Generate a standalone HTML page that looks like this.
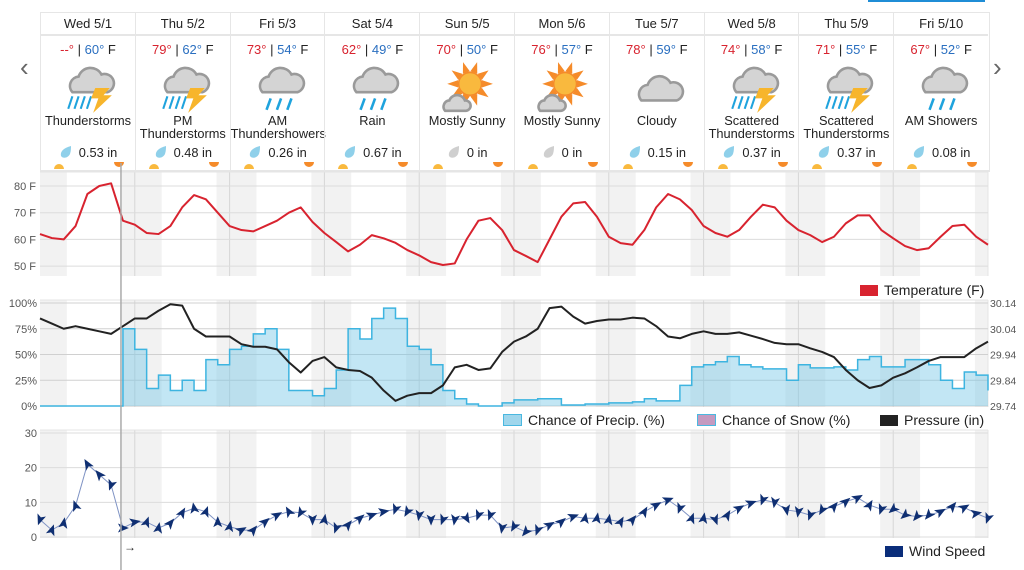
<!DOCTYPE html>
<html><head><meta charset="utf-8">
<style>
body{margin:0;width:1024px;height:570px;background:#fff;font-family:"Liberation Sans",sans-serif;overflow:hidden;position:relative;color:#222}
.col{position:absolute;top:13px;width:94px;height:157px;border-left:1px solid #e6e6e6;text-align:center}
.day{height:21px;line-height:21px;font-size:13px;border-bottom:2px solid #e6e6e6;}
.tmp{font-size:13px;margin-top:6px}
.hi{color:#d8232f}.lo{color:#2a6fc0}
.ico{position:absolute;left:21px;top:48px}
.cond{position:absolute;top:102px;left:0;width:94px;font-size:12.8px;line-height:12.8px}
.pr{position:absolute;top:132px;left:0;width:94px;font-size:12.8px}
.nav{position:absolute;top:52px;font-size:26px;color:#666}
.leg{position:absolute;font-size:14px;color:#222}
.sw{display:inline-block;width:18px;height:11px;vertical-align:-1px;margin-right:6px}
</style></head><body>
<div style="position:absolute;left:868px;top:0;width:117px;height:2px;background:#1f8dd6"></div>
<div class="nav" style="left:20px">‹</div>
<div class="nav" style="left:993px">›</div>
<div id="hdr"></div>
<svg id="ch" width="1024" height="570" style="position:absolute;left:0;top:0"></svg>
<div class="leg" style="left:860px;top:282px"><span class="sw" style="background:#d8232f"></span>Temperature (F)</div>
<div class="leg" style="left:503px;top:412px"><span class="sw" style="background:#9fd6ec;border:1px solid #4ab8e0;width:17px;height:10px"></span>Chance of Precip. (%)</div>
<div class="leg" style="left:697px;top:412px"><span class="sw" style="background:#c49ac0;border:1px solid #4ab8e0;width:17px;height:10px"></span>Chance of Snow (%)</div>
<div class="leg" style="left:880px;top:412px"><span class="sw" style="background:#222"></span>Pressure (in)</div>
<div class="leg" style="left:885px;top:543px"><span class="sw" style="background:#0a2d7a"></span>Wind Speed</div>
<div style="position:absolute;left:124px;top:540px;font-size:12px">→</div>
<script>
const days=["Wed 5/1","Thu 5/2","Fri 5/3","Sat 5/4","Sun 5/5","Mon 5/6","Tue 5/7","Wed 5/8","Thu 5/9","Fri 5/10"];
const highs=["--","79","73","62","70","76","78","74","71","67"];
const lows=["60","62","54","49","50","57","59","58","55","52"];
const conds=["Thunderstorms","PM<br>Thunderstorms","AM<br>Thundershowers","Rain","Mostly Sunny","Mostly Sunny","Cloudy","Scattered<br>Thunderstorms","Scattered<br>Thunderstorms","AM Showers"];
const icons=["storm","storm","rain","rain","sun","sun","cloud","storm","storm","rain"];
const precipAmt=["0.53","0.48","0.26","0.67","0","0","0.15","0.37","0.37","0.08"];
const temps=[62,60.5,60,65,77,80,81,67,65.5,62.4,62,65,72,76.6,75,70,65,63.5,63,65,67,70,72,66.5,62.4,59,55.5,58,61.6,60.4,58.7,56,54,51.5,50.4,51,60,67,68,63.5,56,53.8,51.5,60,68.5,73.5,74,68.5,61,58.6,58,63.5,72,77,75,71,65,62.4,61,63.5,68.5,73,72,67,63.5,61.6,59,61,66,69,69,63.5,60.4,57.5,56,56.7,61,65,65.5,61,58];
const pressure=[30.08,30.06,30.04,30.05,30.04,30.03,30.02,30.05,30.08,30.08,30.11,30.135,30.13,30.04,30.01,30.01,30.01,29.98,29.97,29.97,29.96,29.91,29.87,29.915,29.93,29.89,29.88,29.876,29.85,29.80,29.76,29.78,29.79,29.79,29.82,29.89,29.90,29.88,29.886,29.95,29.99,30.01,30.04,30.12,30.126,30.087,30.06,30.07,30.076,30.076,30.083,30.08,30.05,30.01,30.003,30.02,30.03,30.02,30.02,30.026,30.013,30.0,29.985,29.98,29.98,29.964,29.95,29.93,29.88,29.84,29.81,29.82,29.85,29.867,29.89,29.915,29.93,29.93,29.93,29.964,29.99];
const precip=[0,0,0,0,0,0,0,75,55,17,30,15,25,15,45,40,55,58,70,75,55,15,15,10,17,35,75,65,85,95,85,58,55,40,15,7,2,0,0,3,6,6,7,7,1,1,2,2,3,3,4,7,5,5,20,38,40,43,48,40,38,36,36,25,40,37,37,38,35,45,48,38,38,45,45,40,25,17,33,30,15];
const wind=[5,2,4,9,21,18,15,2.6,4.3,4.3,2.6,4,7,8.3,7.3,4.3,3,2,2,4.4,6.3,7.3,7,5,5,2.6,3.5,5.4,6.3,7.3,8,7.3,6.3,5,5,5,5.4,6.3,6.3,2.6,3,1.5,2,3.5,4.4,5.9,5.4,5.4,5,4.4,5,7.3,9.2,10.7,8.3,5.4,5.4,5,6.3,8.3,9.8,10.7,10,7.8,7.3,6.3,7.8,8.8,10.2,11.3,9.2,8,8,6.3,5.9,6.3,7.3,8.8,8.5,6.8,5.4];
const windDir=[200,20,10,340,330,320,200,90,80,20,10,40,30,350,20,0,10,60,40,50,60,330,210,180,10,200,40,50,70,80,200,210,190,180,200,190,150,200,200,190,210,220,200,60,50,70,10,10,10,30,40,30,60,70,200,20,10,160,30,60,70,200,190,170,190,200,210,40,50,60,30,200,230,230,220,220,60,40,60,80,200];
const tempTicks=[50,60,70,80];
const pctTicks=[0,25,50,75,100];
const presTicks=[29.74,29.84,29.94,30.04,30.14];
const windTicks=[0,10,20,30];
const STEP=3, NOW_H=20.5;

const hdr=document.getElementById('hdr');
function iconSvg(t){
 const cloud='<path d="M10 30 a9 9 0 0 1 6-15 a12 12 0 0 1 22-2 a9 9 0 0 1 6 17 z" fill="#d4d4d4" stroke="#9a9a9a" stroke-width="2.5"/>';
 const rain='<g stroke="#1fa3dd" stroke-width="2.5">'+[0,1,2].map(i=>`<line x1="${18+i*10}" y1="36" x2="${14+i*10}" y2="47"/>`).join('')+'</g>';
 const srain='<g stroke="#1fa3dd" stroke-width="2">'+[0,1,2,3].map(i=>`<line x1="${10+i*6}" y1="34" x2="${6+i*6}" y2="46"/>`).join('')+'</g>';
 const bolt='<path d="M32 26 L46 26 L40 33 L48 33 L30 50 L35 36 L28 36 Z" fill="#f7b52c"/>';
 const sun='<g fill="#f58b2a">'+[...Array(10)].map((_,i)=>{const a=i*36*Math.PI/180;return `<polygon points="${28+Math.cos(a)*22},${22+Math.sin(a)*22} ${28+Math.cos(a+0.3)*12},${22+Math.sin(a+0.3)*12} ${28+Math.cos(a-0.3)*12},${22+Math.sin(a-0.3)*12}"/>`}).join('')+'</g><circle cx="28" cy="22" r="11" fill="#f9b93e" stroke="#f58b2a" stroke-width="1.5"/><path d="M4 48 a6 6 0 0 1 4-10 a8 8 0 0 1 15 0 a5 5 0 0 1 1 10z" fill="#d4d4d4" stroke="#9a9a9a" stroke-width="2.5"/>';
 let s='';
 if(t=='storm')s=cloud+srain+bolt;else if(t=='rain')s=cloud+rain;else if(t=='sun')s=sun;else s='<g transform="translate(0,8)">'+cloud+'</g>';
 return `<svg width="54" height="54" viewBox="0 0 52 52">${s}</svg>`;
}
for(let i=0;i<10;i++){
 const c=document.createElement('div');
 c.className='col';
 
 
 c.style.left=(40+i*94.8)+'px';
 const gray=precipAmt[i]=="0";
 c.innerHTML=`<div class="day">${days[i]}</div><div class="tmp"><span class="hi">${highs[i]}°</span> | <span class="lo">${lows[i]}°</span> F</div><div class="ico">${iconSvg(icons[i])}</div><div class="cond">${conds[i]}</div><div class="pr"><svg width="14" height="14" style="vertical-align:-2px;margin-right:6px"><path d="M12 1 C4 3 1 7 2 11 C4 14 9 13 11 9 C12 6 12 3 12 1Z" fill="${gray?'#cfcfcf':'#8fd0ea'}"/></svg>${precipAmt[i]} in</div><svg width="94" height="8" style="position:absolute;left:0;top:149px"><path d="M13 7 a5 5 0 0 1 10 0z" fill="#f9b93e"/><path d="M73 0 a5 5 0 0 0 10 0z" fill="#f58b2a"/></svg>`;
 hdr.appendChild(c);
}
const hb=document.createElement('div');


hb.style.cssText='position:absolute;left:40px;top:12px;width:948px;height:157px;border:1px solid #e6e6e6;border-bottom:2px solid #e6e6e6;pointer-events:none';
hdr.appendChild(hb);

const NS='http://www.w3.org/2000/svg', svg=document.getElementById('ch');
const X0=40,X1=988,PXH=(X1-X0)/240;
const xH=h=>X0+h*PXH;
const yT=v=>186+(80-v)*2.67;
const yP=v=>406-v*1.03;
const yPr=v=>406-(v-29.74)*257.5;
const yW=v=>537-v*3.467;
function el(t,a,name){const e=document.createElementNS(NS,t);for(const k in a)e.setAttribute(k,a[k]);svg.appendChild(e);return e;}
const panels=[[172,276],[300,407],[430,538]];
panels.forEach((p,pi)=>{
 el('rect',{x:X0,y:p[0],width:X1-X0,height:p[1]-p[0],fill:'#fff'},'plot-bg');
 for(let d=-1;d<10;d++){const s=Math.max(0,d*24+20.7),e=Math.min(240,(d+1)*24+6.8);if(e>s)el('rect',{x:xH(s),y:p[0],width:xH(e)-xH(s),height:p[1]-p[0],fill:'#f2f2f2'},'night-band');}
 for(let d=1;d<10;d++)el('line',{x1:xH(d*24),x2:xH(d*24),y1:p[0],y2:p[1],stroke:'#d6d6d6'},'day-line');
 el('line',{x1:X0,x2:X1,y1:p[0],y2:p[0],stroke:'#e4e4e4'},'plot-top');
 el('line',{x1:X1,x2:X1,y1:p[0],y2:p[1],stroke:'#e4e4e4'},'plot-right');
});
function txt(x,y,s,anchor,name,size,fill){const t=el('text',{x:x,y:y,'text-anchor':anchor,'font-size':size||11,fill:fill||'#555','font-family':'Liberation Sans, sans-serif'},name);t.textContent=s;return t;}
tempTicks.forEach(v=>{el('line',{x1:X0,x2:X1,y1:yT(v),y2:yT(v),stroke:'#dcdcdc'},'temp-grid');txt(36,yT(v)+4,v+' F','end','temp-tick');});
pctTicks.forEach(v=>{el('line',{x1:X0,x2:X1,y1:yP(v),y2:yP(v),stroke:'#d0d0d0'},'pct-grid');txt(37,yP(v)+4,v+'%','end','pct-tick');});
presTicks.forEach(v=>txt(990,yPr(v)+4,v.toFixed(2),'start','pressure-tick',10.5));
windTicks.forEach(v=>{el('line',{x1:X0,x2:X1,y1:yW(v),y2:yW(v),stroke:'#dcdcdc'},'wind-grid');txt(37,yW(v)+4,v,'end','wind-tick');});
el('polyline',{points:temps.map((v,i)=>xH(i*STEP)+','+yT(v)).join(' '),fill:'none',stroke:'#d8232f','stroke-width':2,'stroke-linejoin':'round'},'temperature-line');
let d=`M${xH(0)},${yP(0)}`;
precip.forEach((v,i)=>{d+=` L${xH(i*STEP)},${yP(v)} L${xH(Math.min(240,(i+1)*STEP))},${yP(v)}`;});
el('path',{d:d+` L${xH(240)},${yP(0)} Z`,fill:'rgba(120,200,230,0.45)',stroke:'none'},'precip-area');
el('path',{d:d,fill:'none',stroke:'#3db4e0','stroke-width':1.5},'precip-line');
el('polyline',{points:pressure.map((v,i)=>xH(i*STEP)+','+yPr(v)).join(' '),fill:'none',stroke:'#222','stroke-width':2,'stroke-linejoin':'round'},'pressure-line');
el('polyline',{points:wind.map((v,i)=>xH(i*STEP)+','+yW(v)).join(' '),fill:'none',stroke:'#7f93c4','stroke-width':1},'wind-line');
wind.forEach((v,i)=>{const a=windDir[i];
 el('path',{d:'M0,-6 L4.5,5 L0,2.5 L-4.5,5 Z',fill:'#0f2f72',transform:`translate(${xH(i*STEP)},${yW(v)}) rotate(${a})`},'wind-arrow');});
el('line',{x1:xH(NOW_H),x2:xH(NOW_H),y1:163,y2:570,stroke:'#aaa','stroke-width':1.5},'now-cursor');
</script>
</body></html>
